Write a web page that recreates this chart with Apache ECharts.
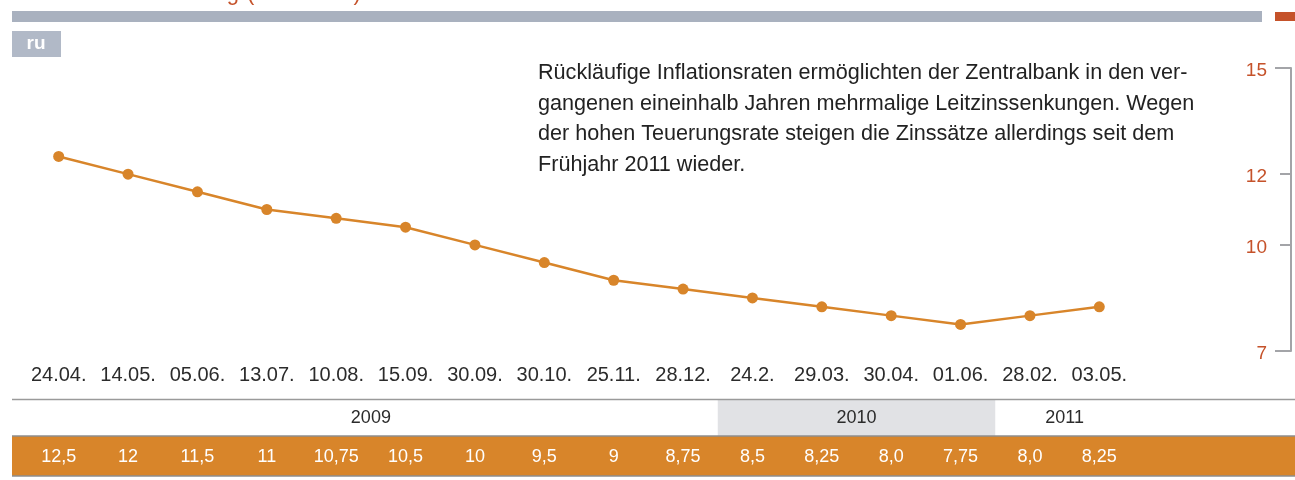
<!DOCTYPE html>
<html>
<head>
<meta charset="utf-8">
<script src="https://cdn.jsdelivr.net/npm/echarts@6/dist/echarts.min.js"></script>
<style>
  html, body { margin: 0; padding: 0; background: #fff; }
  #chart { width: 1295px; height: 480px; }
</style>
</head>
<body>
<div id="chart"></div>
<script>
  // Leitzins-Termine und Werte
  const dates = ['24.04.', '14.05.', '05.06.', '13.07.', '10.08.', '15.09.', '30.09.', '30.10.',
                 '25.11.', '28.12.', '24.2.', '29.03.', '30.04.', '01.06.', '28.02.', '03.05.']
  const rates = [12.5, 12, 11.5, 11, 10.75, 10.5, 10, 9.5, 9, 8.75, 8.5, 8.25, 8.0, 7.75, 8.0, 8.25]
  const rateLabels = ['12,5', '12', '11,5', '11', '10,75', '10,5', '10', '9,5', '9', '8,75',
                      '8,5', '8,25', '8,0', '7,75', '8,0', '8,25']
  const yearNames = ['2009', '2010', '2011']
  const yearStart = [0, 10, 14]      // erster Termin des Jahres (Index)
  const yearEnd = [9, 13, 15]        // letzter Termin des Jahres (Index)
  const yTicks = [15, 12, 10, 7]
  const yLongTicks = [15, 7]

  const note = 'Rückläufige Inflationsraten ermöglichten der Zentralbank in den ver-\n' +
               'gangenen eineinhalb Jahren mehrmalige Leitzinssenkungen. Wegen\n' +
               'der hohen Teuerungsrate steigen die Zinssätze allerdings seit dem\n' +
               'Frühjahr 2011 wieder.'

  const FONT = '"Liberation Sans", Arial, sans-serif'
  const ORANGE = '#d8852a'
  const RED = '#c5522a'

  let chart = echarts.init(document.getElementById('chart'))

  chart.setOption({
    animation: false,
    textStyle: { fontFamily: FONT },
    grid: { left: 24, right: 161, top: 68, height: 283 },
    xAxis: {
      type: 'category',
      boundaryGap: true,
      data: dates,
      axisLine: { show: false },
      axisTick: { show: false },
      axisLabel: { color: '#2b2b2b', fontSize: 20, margin: 14, interval: 0 }
    },
    yAxis: [
      {
        type: 'value',
        min: 7,
        max: 15,
        position: 'right',
        offset: 157,
        splitLine: { show: false },
        axisLine: { show: true, lineStyle: { color: '#a3a4a8', width: 2 } },
        axisTick: { show: true, inside: true, length: 11, customValues: yTicks,
                    lineStyle: { color: '#a3a4a8', width: 2 } },
        axisLabel: { inside: true, margin: 24, color: RED, fontSize: 19,
                     customValues: yTicks, verticalAlign: 'top', padding: [-7, 0, 0, 0] }
      },
      {
        // lange Striche bei 15 und 7
        type: 'value',
        min: 7,
        max: 15,
        position: 'right',
        offset: 157,
        splitLine: { show: false },
        axisLine: { show: false },
        axisTick: { show: true, inside: true, length: 16, customValues: yLongTicks,
                    lineStyle: { color: '#a3a4a8', width: 2 } },
        axisLabel: { show: false }
      }
    ],
    series: [
      {
        type: 'line',
        data: rates,
        symbol: 'circle',
        symbolSize: 11,
        itemStyle: { color: ORANGE },
        lineStyle: { color: ORANGE, width: 2.5 }
      }
    ]
  })

  // Tabelle unter dem Diagramm, an die Kategorieachse gekoppelt
  function px(i) {
    return chart.convertToPixel({ xAxisIndex: 0 }, i)
  }
  const band = px(1) - px(0)

  let g = [
    { type: 'rect', shape: { x: 12, y: 11, width: 1250, height: 11 }, style: { fill: '#a9b1bf' } },
    { type: 'rect', shape: { x: 1275, y: 12, width: 20, height: 9 }, style: { fill: RED } },
    // abgeschnittener Titel oberhalb des Bildes
    { type: 'text', x: 239, y: 5, style: { text: 'Leitzinsentwicklung', fill: RED,
      font: '22px ' + FONT, align: 'right', verticalAlign: 'bottom' } },
    { type: 'text', x: 247, y: 5, style: { text: '(in Prozent)', fill: RED,
      font: '22px ' + FONT, verticalAlign: 'bottom' } },
    { type: 'rect', shape: { x: 12, y: 31, width: 49, height: 26 }, style: { fill: '#b1b9c7' } },
    { type: 'text', x: 36, y: 44, style: { text: 'ru', fill: '#fff', font: 'bold 19px ' + FONT,
      align: 'center', verticalAlign: 'middle' } },
    { type: 'text', x: 538, y: 58, style: { text: note, fill: '#222', font: '21.6px ' + FONT,
      lineHeight: 30.6, verticalAlign: 'top' } }
  ]

  // Jahreszeile
  yearNames.forEach((name, k) => {
    const x0 = px(yearStart[k]) - band / 2
    const x1 = px(yearEnd[k]) + band / 2
    if (name === '2010') {
      g.push({ type: 'rect', shape: { x: x0, y: 400, width: x1 - x0, height: 36 },
               style: { fill: '#e1e2e5' } })
    }
    g.push({ type: 'text', x: (x0 + x1) / 2, y: 418, style: { text: name, fill: '#2b2b2b',
             font: '18px ' + FONT, align: 'center', verticalAlign: 'middle' } })
  })
  g.push({ type: 'line', shape: { x1: 12, y1: 399.5, x2: 1295, y2: 399.5 },
           style: { stroke: '#9a9a9a', lineWidth: 1.5 } })

  // Zinssätze im orangen Band
  g.push({ type: 'rect', shape: { x: 12, y: 436, width: 1283, height: 40 }, style: { fill: ORANGE } })
  g.push({ type: 'line', shape: { x1: 12, y1: 436, x2: 1295, y2: 436 },
           style: { stroke: '#8e8e8e', lineWidth: 1.5 } })
  g.push({ type: 'line', shape: { x1: 12, y1: 476, x2: 1295, y2: 476 },
           style: { stroke: '#8e8e8e', lineWidth: 1.5 } })
  rateLabels.forEach((t, i) => {
    g.push({ type: 'text', x: px(i), y: 457, style: { text: t, fill: '#fff',
             font: '18px ' + FONT, align: 'center', verticalAlign: 'middle' } })
  })

  chart.setOption({ graphic: g })
</script>
</body>
</html>
